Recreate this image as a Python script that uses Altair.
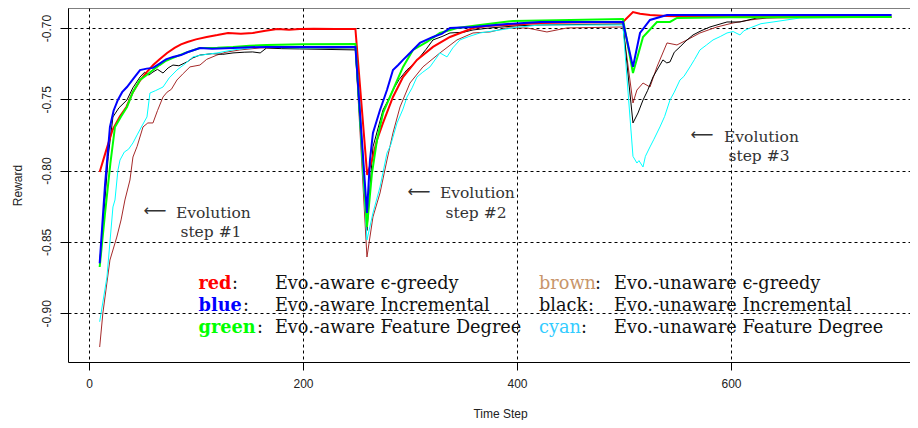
import altair as alt
import pandas as pd

# ---- data ----
red = [(10,-0.801),(16,-0.786),(22,-0.7715),(29,-0.762),(35,-0.7554),(41,-0.745),(48,-0.7365),
       (54,-0.731),(60,-0.726),(66,-0.722),(73,-0.7175),(80,-0.714),(86,-0.7115),(92,-0.7098),
       (100,-0.708),(110,-0.7063),(120,-0.705),(130,-0.7035),(142,-0.704),(153,-0.7035),(165,-0.702),
       (176,-0.7007),(187,-0.7012),(197,-0.7007),(210,-0.7005),(230,-0.7007),(249,-0.7007),
       (260,-0.803),(264.5,-0.7926),(269.2,-0.7785),(274.8,-0.7666),(284.1,-0.7484),(293.5,-0.7344),
       (306.5,-0.7224),(321.5,-0.7133),(337.4,-0.7063),(358.9,-0.7),(375,-0.6985),(390.7,-0.6979),
       (421.5,-0.6965),(452,-0.6962),(499,-0.6958),(508.4,-0.6888),(515,-0.69),(524.3,-0.6909),
       (540.2,-0.6916),(560,-0.692),(600,-0.6923),(650,-0.6923),(700,-0.6923),(750,-0.6923)]

blue = [(10,-0.865),(15,-0.81),(19.6,-0.7694),(23,-0.758),(27,-0.7505),(31,-0.745),(35.5,-0.7414),
        (41,-0.736),(47.7,-0.7295),(54,-0.7285),(59.8,-0.728),(66,-0.725),(72,-0.722),(78.5,-0.7203),
        (86,-0.719),(92,-0.717),(103.7,-0.714),(115,-0.7145),(134.6,-0.714),(150,-0.7135),
        (166,-0.7133),(200,-0.7133),(249,-0.7133),
        (259.8,-0.8297),(262.6,-0.7926),(265.4,-0.7736),(272,-0.7575),(278.5,-0.7435),(284.1,-0.7295),
        (289,-0.726),(293.5,-0.7224),(300,-0.7175),(309.3,-0.7105),(321.5,-0.7063),(330,-0.704),
        (337.4,-0.70),(358.9,-0.6993),(390.7,-0.6972),(421.5,-0.6958),(499,-0.6958),
        (508.4,-0.7273),(515,-0.7035),(524.3,-0.6944),(540.2,-0.6909),(750,-0.6909)]

green = [(10,-0.8676),(15,-0.83),(20,-0.795),(24.3,-0.7694),(30,-0.762),(35.5,-0.7554),(41,-0.745),
         (47.7,-0.7365),(54,-0.733),(59.8,-0.7295),(66,-0.726),(72,-0.723),(78.5,-0.721),(90,-0.7175),
         (103.7,-0.714),(120,-0.7138),(134.6,-0.7133),(150,-0.7125),(166,-0.712),(200,-0.7115),
         (249,-0.7112),
         (259.8,-0.8395),(264.5,-0.8017),(269.2,-0.7785),(274.8,-0.7596),(284.1,-0.7435),(293.5,-0.7273),
         (302.8,-0.7154),(315.9,-0.7098),(328,-0.7035),(344,-0.70),(365.4,-0.6979),(396.3,-0.6951),
         (450,-0.6944),(499,-0.6937),
         (508.4,-0.7316),(517.8,-0.7063),(530.8,-0.6958),(543,-0.6958),(549.5,-0.693),(600,-0.6925),
         (750,-0.6923)]

black = [(10,-0.865),(15,-0.82),(18,-0.79),(22.4,-0.7624),(28,-0.756),(35.5,-0.7505),(41,-0.742),
         (47.7,-0.7344),(52,-0.731),(56,-0.733),(59.8,-0.7309),(64,-0.729),(69.2,-0.7316),(74,-0.728),
         (78.5,-0.726),(84,-0.7265),(91.6,-0.7238),(97,-0.721),(103.7,-0.719),(115,-0.718),
         (125,-0.7185),(134.6,-0.7175),(145,-0.717),(153,-0.7168),(160,-0.7175),(166,-0.714),
         (180,-0.7145),(197,-0.7147),(249,-0.7154),
         (259.8,-0.842),(265.4,-0.7834),(274.8,-0.7575),(280,-0.75),(284.1,-0.7435),(290,-0.736),
         (297,-0.7295),(303,-0.7255),(309.3,-0.7203),(315,-0.715),(321.5,-0.7084),(330,-0.706),
         (337.4,-0.7035),(350,-0.703),(358.9,-0.7014),(374.8,-0.70),(400,-0.6985),(421.5,-0.6979),
         (499,-0.6972),
         (508.4,-0.7666),(513.1,-0.7596),(517.8,-0.7505),(522,-0.744),(527.1,-0.7344),(532,-0.728),
         (536.4,-0.7224),(540,-0.7245),(543,-0.7238),(547,-0.717),(552.3,-0.7133),(558,-0.709),
         (564.5,-0.7049),(572,-0.702),(580.4,-0.6993),(596.3,-0.6958),(608.4,-0.6958),
         (624.3,-0.693),(664.5,-0.6923),(750,-0.6909)]

cyan = [(10,-0.906),(16.8,-0.8746),(22.4,-0.8255),(24.3,-0.8206),(27,-0.80),(29,-0.7926),(33,-0.787),
        (37,-0.785),(41.1,-0.7806),(45,-0.775),(50,-0.768),(54.2,-0.7624),(57,-0.7456),(62,-0.744),
        (69.2,-0.7414),(75,-0.735),(82.2,-0.7295),(90,-0.725),(97.2,-0.7203),(105,-0.719),
        (119.6,-0.7175),(134.6,-0.7154),(145,-0.7145),(159.8,-0.7133),(180,-0.7138),(197.2,-0.714),
        (249,-0.714),
        (259.8,-0.8487),(265.4,-0.8297),(272,-0.8115),(278.5,-0.7877),(282,-0.782),(287.9,-0.7666),
        (293.5,-0.7568),(297.2,-0.7484),(302,-0.742),(306.5,-0.7344),(312,-0.731),(318.7,-0.7273),
        (328,-0.7175),(334.6,-0.7203),(340,-0.714),(346.7,-0.7084),(355,-0.706),(365.4,-0.7035),
        (384.1,-0.7014),(400,-0.6995),(421.5,-0.6979),(499,-0.6979),
        (508.4,-0.79),(512.1,-0.7947),(514,-0.793),(517.8,-0.7975),(520,-0.79),(524.3,-0.7834),
        (528,-0.778),(533.6,-0.7694),(538,-0.762),(543,-0.7505),(547,-0.745),(552.3,-0.7365),
        (556,-0.734),(561.7,-0.7273),(566,-0.722),(571,-0.7154),(577,-0.712),(583.2,-0.7084),
        (590,-0.706),(596.3,-0.7035),(602,-0.7025),(608.4,-0.7049),(612,-0.702),(617.8,-0.70),
        (628,-0.697),(639.3,-0.6958),(664.5,-0.693),(700,-0.6928),(750,-0.6923)]

brown = [(10,-0.9237),(13,-0.8999),(19.6,-0.8627),(26,-0.8466),(30,-0.8346),(33.6,-0.8206),
         (38.3,-0.8066),(41.1,-0.7905),(45,-0.783),(50.5,-0.7694),(55,-0.7666),(59.8,-0.7666),
         (64,-0.758),(69.2,-0.7484),(73,-0.745),(77,-0.743),(82.2,-0.7365),(88,-0.732),(94.4,-0.7273),
         (103.7,-0.726),(110,-0.722),(119.6,-0.719),(128,-0.717),(141,-0.7154),(159.8,-0.714),
         (197.2,-0.714),(249,-0.7147),
         (259.8,-0.8606),(265.4,-0.8325),(272,-0.8157),(278.5,-0.7926),(284.1,-0.7736),(290.7,-0.7554),
         (300,-0.7386),(312.1,-0.7273),(328,-0.7175),(343.9,-0.7084),(358.9,-0.7035),(374.8,-0.7028),
         (390.7,-0.70),(409.3,-0.70),(428,-0.7028),(446.7,-0.70),(499,-0.6993),
         (508.4,-0.7526),(512.1,-0.7435),(517.8,-0.7386),(524.3,-0.7414),(530.8,-0.7273),
         (540.2,-0.7105),(549.5,-0.7119),(558.9,-0.7084),(571,-0.7035),(586.9,-0.6993),
         (601.9,-0.6965),(617.8,-0.6944),(633.6,-0.693),(750,-0.6923)]

series_names = ["brown", "black", "cyan", "red", "green", "blue"]
series_data = [brown, black, cyan, red, green, blue]
line_colors = ["#a52a2a", "#000000", "#00ffff", "#ff0000", "#00ff00", "#0000ff"]
thick_series = ["red", "green", "blue"]

x_ticks = [0, 200, 400, 600]
y_ticks = [-0.90, -0.85, -0.80, -0.75, -0.70]

# annotations
ann_arrow_x = [61.7, 308.4, 572.9]
ann_arrow_y = [-0.8283, -0.8150, -0.7750]
ann_word_x = [81.3, 328.0, 593.5]
ann_word_y = [-0.8297, -0.8157, -0.7764]
ann_step_x = [114.0, 361.7, 626.2]
ann_step_y = [-0.8430, -0.8297, -0.7898]
ann_step_text = ["step #1", "step #2", "step #3"]

# legend (text block)
leg_word = ["red", "blue", "green", "brown", "black", "cyan"]
leg_color = ["#ff0000", "#0000ff", "#00ff00", "#c8956a", "#111111", "#33ccff"]
leg_bold = [True, True, True, False, False, False]
leg_desc = ["Evo.-aware \u03f5-greedy", "Evo.-aware Incremental", "Evo.-aware Feature Degree",
            "Evo.-unaware \u03f5-greedy", "Evo.-unaware Incremental", "Evo.-unaware Feature Degree"]
leg_word_x = [102.4, 102.4, 102.4, 420.6, 420.6, 420.6]
leg_colon_x = [133.6, 144.0, 157.0, 472.9, 466.4, 459.8]
leg_desc_x = [173.8, 173.8, 173.8, 490.7, 490.7, 490.7]
leg_y = [-0.8795, -0.8950, -0.9104, -0.8795, -0.8950, -0.9104]

# ---- build tables ----
rows = []
for name, pts in zip(series_names, series_data):
    for i, (xv, yv) in enumerate(pts):
        rows.append({"series": name, "t": xv, "r": yv, "i": i})
df = pd.DataFrame(rows)

X_DOM = [-19.6, 767.3]
Y_DOM = [-0.9342, -0.686]
W, H = 842, 354

xs = alt.Scale(domain=X_DOM, nice=False, zero=False)
ys = alt.Scale(domain=Y_DOM, nice=False, zero=False)
col = alt.Scale(domain=series_names, range=line_colors)

x_axis = alt.Axis(values=x_ticks, title="Time Step", grid=True, gridDash=[3, 3], gridColor="#000",
                  gridWidth=1, gridOpacity=1, domainColor="#000", tickColor="#000", tickSize=8,
                  labelFont="Liberation Sans", labelFontSize=12, labelColor="#222", labelPadding=8,
                  titleFont="Liberation Sans", titleFontSize=12, titleFontWeight="normal",
                  titleColor="#222", titlePadding=19, titleX=432, labelFlush=False)
y_axis = alt.Axis(values=y_ticks, title="Reward", format=".2f", grid=True, gridDash=[3, 3],
                  gridColor="#000", gridWidth=1, gridOpacity=1, domainColor="#000", tickColor="#000",
                  tickSize=8, labelAngle=-90, labelAlign="center", labelBaseline="bottom",
                  labelPadding=7, labelFont="Liberation Sans", labelFontSize=12, labelColor="#222",
                  labelExpr="replace(datum.label, '\u2212', '-')",
                  titleFont="Liberation Sans", titleFontSize=12, titleFontWeight="normal",
                  titleColor="#222", titlePadding=16, labelFlush=False)

base = alt.Chart(df).encode(
    x=alt.X("t:Q", scale=xs, axis=x_axis),
    y=alt.Y("r:Q", scale=ys, axis=y_axis),
    color=alt.Color("series:N", scale=col, legend=None),
    order=alt.Order("i:Q"),
)
thin = base.transform_filter(~alt.FieldOneOfPredicate(field="series", oneOf=thick_series)).mark_line(
    strokeWidth=1, clip=True)
thick = base.transform_filter(alt.FieldOneOfPredicate(field="series", oneOf=thick_series)).mark_line(
    strokeWidth=2, clip=True)

top_rule = alt.Chart(pd.DataFrame({"a": [0]})).mark_rule(color="#000", strokeWidth=1).encode(
    x=alt.value(0), x2=alt.value(W), y=alt.value(0))

ann_df = pd.DataFrame({"ax": ann_arrow_x, "ay": ann_arrow_y, "wx": ann_word_x, "wy": ann_word_y,
                       "sx": ann_step_x, "sy": ann_step_y, "st": ann_step_text})
arrows = alt.Chart(ann_df).mark_text(text="\u27f5", font="DejaVu Sans", fontSize=16, color="#333",
                                     baseline="middle").encode(
    x=alt.X("ax:Q", scale=xs), y=alt.Y("ay:Q", scale=ys))
words = alt.Chart(ann_df).mark_text(text="Evolution", font="DejaVu Serif", fontSize=15.5, color="#333",
                                    align="left", baseline="middle").encode(
    x=alt.X("wx:Q", scale=xs), y=alt.Y("wy:Q", scale=ys))
steps = alt.Chart(ann_df).mark_text(font="DejaVu Serif", fontSize=15.5, color="#333",
                                    align="center", baseline="middle").encode(
    x=alt.X("sx:Q", scale=xs), y=alt.Y("sy:Q", scale=ys), text="st:N")

leg_df = pd.DataFrame({"w": leg_word, "c": leg_color, "b": leg_bold, "d": leg_desc,
                       "wx": leg_word_x, "cx": leg_colon_x, "dx": leg_desc_x, "y": leg_y})
LF = "DejaVu Serif"
LS = 17.7
word_b = alt.Chart(leg_df).transform_filter("datum.b").mark_text(
    font=LF, fontSize=LS, fontWeight="bold", align="left", baseline="middle").encode(
    x=alt.X("wx:Q", scale=xs), y=alt.Y("y:Q", scale=ys), text="w:N",
    color=alt.Color("c:N", scale=None))
word_n = alt.Chart(leg_df).transform_filter("!datum.b").mark_text(
    font=LF, fontSize=LS, fontWeight="normal", align="left", baseline="middle").encode(
    x=alt.X("wx:Q", scale=xs), y=alt.Y("y:Q", scale=ys), text="w:N",
    color=alt.Color("c:N", scale=None))
colons = alt.Chart(leg_df).mark_text(
    text=":", font=LF, fontSize=LS, color="#111", align="left", baseline="middle").encode(
    x=alt.X("cx:Q", scale=xs), y=alt.Y("y:Q", scale=ys))
desc = alt.Chart(leg_df).mark_text(
    font=LF, fontSize=LS, color="#111", align="left", baseline="middle").encode(
    x=alt.X("dx:Q", scale=xs), y=alt.Y("y:Q", scale=ys), text="d:N")

chart = alt.layer(thin, thick, top_rule, arrows, words, steps,
                  word_b, word_n, colons, desc).resolve_scale(color="independent").properties(
    width=W, height=H, autosize=alt.AutoSizeParams(type="none"),
    padding={"left": 60, "top": 0, "right": 0, "bottom": 58},
    background="white",
).configure_view(stroke=None)

chart.save("out.html", embed_options={"renderer": "svg", "actions": False})
